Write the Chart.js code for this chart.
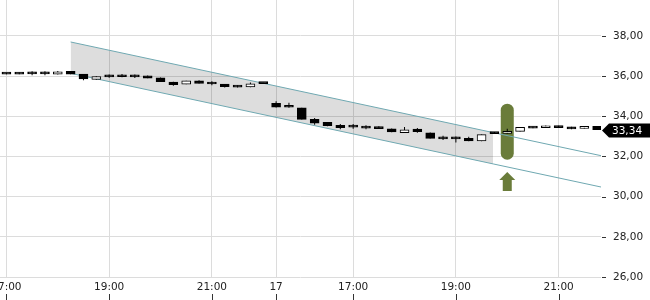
<!DOCTYPE html>
<html>
<head>
<meta charset="utf-8">
<script src="https://cdn.jsdelivr.net/npm/chart.js@4/dist/chart.umd.min.js"></script>
<style>
  html, body { margin: 0; padding: 0; background: #fff; }
  canvas { display: block; }
</style>
</head>
<body>
<canvas id="chart" width="650" height="300"></canvas>
<script>
// 15-minute candles, 16th evening then 17th afternoon
var times = ['17:00','17:15','17:30','17:45','18:00','18:15','18:30','18:45',
             '19:00','19:15','19:30','19:45','20:00','20:15','20:30','20:45',
             '21:00','21:15','21:30','21:45','22:00',
             '15:30','15:45','16:00','16:15','16:30','16:45','17:00','17:15',
             '17:30','17:45','18:00','18:15','18:30','18:45','19:00','19:15',
             '19:30','19:45','20:00','20:15','20:30','20:45','21:00','21:15',
             '21:30','21:45'];

var opens  = [36.14,36.14,36.12,36.12,36.10,36.24,36.10,35.84,36.03,36.06,
              35.98,36.02,35.92,35.70,35.60,35.76,35.68,35.60,35.53,35.46,
              35.66,34.65,34.47,34.42,33.85,33.70,33.55,33.48,33.50,33.48,
              33.38,33.18,33.36,33.18,32.94,32.90,32.90,32.77,33.20,33.15,
              33.25,33.48,33.43,33.52,33.47,33.40,33.50];
var highs  = [36.16,36.18,36.24,36.24,36.25,36.25,36.11,35.99,36.08,36.10,
              36.08,36.03,35.93,35.72,35.77,35.80,35.74,35.61,35.54,35.68,
              35.67,34.75,34.68,34.43,33.92,33.72,33.62,33.62,33.56,33.50,
              33.39,33.47,33.42,33.19,33.03,33.00,32.98,33.09,33.22,33.38,
              33.46,33.49,33.54,33.53,33.48,33.52,33.52];
var lows   = [36.09,36.09,36.04,36.04,36.08,36.09,35.80,35.82,35.92,35.95,
              35.91,35.89,35.71,35.52,35.59,35.63,35.54,35.43,35.44,35.45,
              35.62,34.44,34.43,33.84,33.58,33.50,33.35,33.38,33.36,33.37,
              33.21,33.17,33.18,32.89,32.82,32.69,32.76,32.76,33.13,33.14,
              33.24,33.40,33.42,33.43,33.36,33.39,33.33];
var closes = [36.10,36.10,36.11,36.11,36.22,36.10,35.86,35.98,35.96,35.97,
              35.96,35.90,35.72,35.58,35.76,35.64,35.61,35.48,35.45,35.62,
              35.63,34.45,34.45,33.85,33.66,33.53,33.44,33.46,33.41,33.39,
              33.22,33.33,33.23,32.90,32.88,32.88,32.77,33.09,33.14,33.25,
              33.45,33.41,33.53,33.44,33.37,33.48,33.34];

// trend channel (candle index, price)
var channelIdx   = [5, 37.9, 46.3];
var channelUpper = [37.70, 33.19, 32.04];
var channelLower = [36.14, 31.63, 30.48];

var tickIdx    = [0, 8, 16, 21, 27, 35, 43];
var tickLabels = ['17:00', '19:00', '21:00', '17', '17:00', '19:00', '21:00'];
var yTicks     = [26, 28, 30, 32, 34, 36, 38];

// signal marker
var signalIdx = 39;

function fmt(v) { return v.toFixed(2).replace('.', ','); }

Chart.defaults.font.family = 'DejaVu Sans';
Chart.defaults.font.size = 10.5;
Chart.defaults.color = '#222';

var overlay = {
  id: 'overlay',
  beforeDatasetsDraw: function (chart) {
    var c = chart.ctx, x = chart.scales.x, y = chart.scales.y;
    var cx = x.getPixelForValue(signalIdx);
    // green oval
    var top = y.getPixelForValue(34.63), bot = y.getPixelForValue(31.84);
    c.save();
    c.fillStyle = '#6a7c3a';
    c.beginPath();
    c.roundRect(cx - 6.5, top, 13, bot - top, 6.5);
    c.fill();
    // arrow
    var aTop = y.getPixelForValue(31.23), aMid = y.getPixelForValue(30.83), aBot = y.getPixelForValue(30.28);
    c.beginPath();
    c.moveTo(cx, aTop);
    c.lineTo(cx + 8, aMid);
    c.lineTo(cx + 4.5, aMid);
    c.lineTo(cx + 4.5, aBot);
    c.lineTo(cx - 4.5, aBot);
    c.lineTo(cx - 4.5, aMid);
    c.lineTo(cx - 8, aMid);
    c.closePath();
    c.fill();
    c.restore();
  },
  afterDraw: function (chart) {
    var c = chart.ctx, x = chart.scales.x, y = chart.scales.y, ca = chart.chartArea;
    c.save();
    c.fillStyle = '#333';
    // y tick dashes
    yTicks.forEach(function (v) {
      c.fillRect(ca.right + 1, Math.round(y.getPixelForValue(v)), 4, 1);
    });
    // x tick marks under labels
    tickIdx.forEach(function (v) {
      c.fillRect(Math.round(x.getPixelForValue(v)), 294, 1, 6);
    });
    // last price tag
    var last = closes[closes.length - 1];
    var py = y.getPixelForValue(last) + 1;
    c.fillStyle = '#000';
    c.beginPath();
    c.moveTo(ca.right + 1, py);
    c.lineTo(ca.right + 8, py - 7);
    c.lineTo(650, py - 7);
    c.lineTo(650, py + 7);
    c.lineTo(ca.right + 8, py + 7);
    c.closePath();
    c.fill();
    c.fillStyle = '#fff';
    c.font = '10.5px "DejaVu Sans"';
    c.textBaseline = 'middle';
    c.fillText(fmt(last), ca.right + 11, py + 0.5);
    c.restore();
  }
};

function pts(xs, ys, n) {
  var out = [];
  for (var i = 0; i < n; i++) out.push({ x: xs[i], y: ys[i] });
  return out;
}

function noPad(s) {
  s.paddingLeft = 0; s.paddingRight = 0; s.paddingTop = 0; s.paddingBottom = 0;
}

new Chart(document.getElementById('chart'), {
  type: 'bar',
  data: {
    datasets: [
      {
        type: 'line', data: pts(channelIdx, channelUpper, 2),
        borderWidth: 0, pointRadius: 0, fill: '+1',
        backgroundColor: 'rgba(0,0,0,0.135)', order: 5
      },
      {
        type: 'line', data: pts(channelIdx, channelLower, 2),
        borderWidth: 0, pointRadius: 0, fill: false, order: 5
      },
      {
        type: 'line', data: pts(channelIdx, channelUpper, 3),
        borderColor: '#6fa8b1', borderWidth: 1, pointRadius: 0, fill: false, order: 3
      },
      {
        type: 'line', data: pts(channelIdx, channelLower, 3),
        borderColor: '#6fa8b1', borderWidth: 1, pointRadius: 0, fill: false, order: 3
      },
      {
        label: 'wick',
        data: lows.map(function (l, i) { return { x: i, y: [l, highs[i]] }; }),
        backgroundColor: '#000', barThickness: 1, grouped: false,
        inflateAmount: 0, order: 1
      },
      {
        label: 'body',
        data: opens.map(function (o, i) { return { x: i, y: [o, closes[i]] }; }),
        backgroundColor: function (ctx) {
          var i = ctx.dataIndex;
          return closes[i] >= opens[i] ? '#fff' : '#000';
        },
        borderColor: '#000', borderWidth: 1, borderSkipped: false,
        barThickness: 9, minBarLength: 2, grouped: false, order: 0
      }
    ]
  },
  options: {
    responsive: false,
    animation: false,
    layout: { padding: 0, autoPadding: false },
    plugins: {
      legend: { display: false },
      tooltip: {
        callbacks: {
          title: function (items) { return times[Math.round(items[0].parsed.x)] || ''; }
        }
      }
    },
    scales: {
      x: {
        type: 'linear',
        min: -0.5, max: 46.3,
        offset: false,
        grid: { color: '#dcdcdc', drawTicks: false, offset: false },
        border: { display: false },
        afterBuildTicks: function (s) { s.ticks = tickIdx.map(function (v) { return { value: v }; }); },
        afterFit: function (s) { s.height = 23; noPad(s); },
        ticks: {
          autoSkip: false, maxRotation: 0, padding: 4,
          callback: function (v, i) { return tickLabels[i]; }
        }
      },
      y: {
        position: 'right',
        min: 26, max: 39.79,
        grid: { color: '#dcdcdc', drawTicks: false },
        border: { display: false },
        afterBuildTicks: function (s) { s.ticks = yTicks.map(function (v) { return { value: v }; }); },
        afterFit: function (s) { s.width = 49; noPad(s); },
        ticks: {
          padding: 12,
          callback: function (v) { return fmt(v); }
        }
      }
    }
  },
  plugins: [overlay]
});
</script>
</body>
</html>
